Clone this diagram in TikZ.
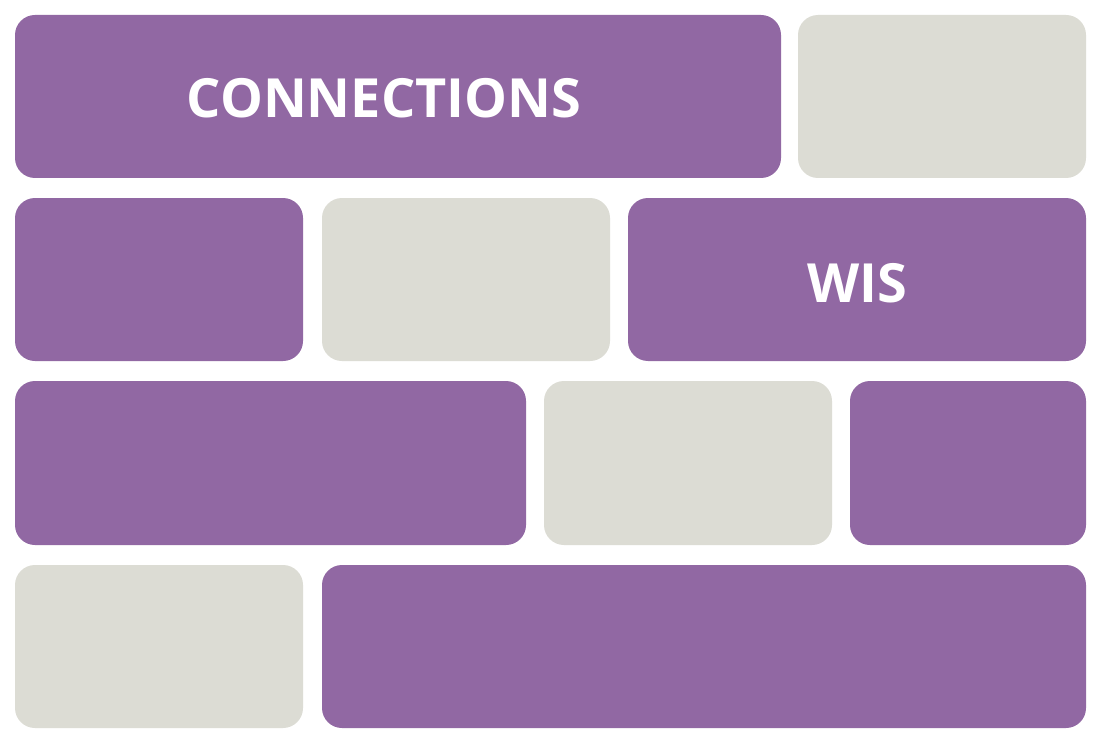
\documentclass[tikz,border=0pt]{standalone}
\usepackage{fontspec}
\setmainfont{Open Sans}
\definecolor{purp}{HTML}{9168A3}
\definecolor{grayb}{HTML}{DCDCD4}
\begin{document}
\begin{tikzpicture}[x=1pt,y=-1pt,
  blk/.style={rounded corners=20pt,inner sep=0pt,outer sep=0pt,text=white,font=\fontsize{54}{60}\selectfont\bfseries},
  pb/.style={blk,fill=purp},
  gb/.style={blk,fill=grayb}]
\useasboundingbox[fill=white] (0,0) rectangle (1102,746);
\newcommand\bx[6]{\node[#1,minimum width={#4-#2},minimum height={#5-#3}] (#6) at ({(#2+#4)/2},{(#3+#5)/2}) {};}
\bx{pb}{15}{15}{781}{178}{a1}
\bx{gb}{798}{15}{1086}{178}{a2}
\bx{pb}{15}{198}{303}{361}{b1}
\bx{gb}{322}{198}{610}{361}{b2}
\bx{pb}{628}{198}{1086}{361}{b3}
\bx{pb}{15}{381}{526}{545}{c1}
\bx{gb}{544}{381}{832}{545}{c2}
\bx{pb}{850}{381}{1086}{545}{c3}
\bx{gb}{15}{565}{303}{728}{d1}
\bx{pb}{322}{565}{1086}{728}{d2}
\node[text=white,font=\fontsize{54}{60}\selectfont\bfseries] (t1) at (384,98) {CONNECTIONS};
\node[text=white,font=\fontsize{54}{60}\selectfont\bfseries] (t2) at (857,283) {WIS};
\end{tikzpicture}
\end{document}
